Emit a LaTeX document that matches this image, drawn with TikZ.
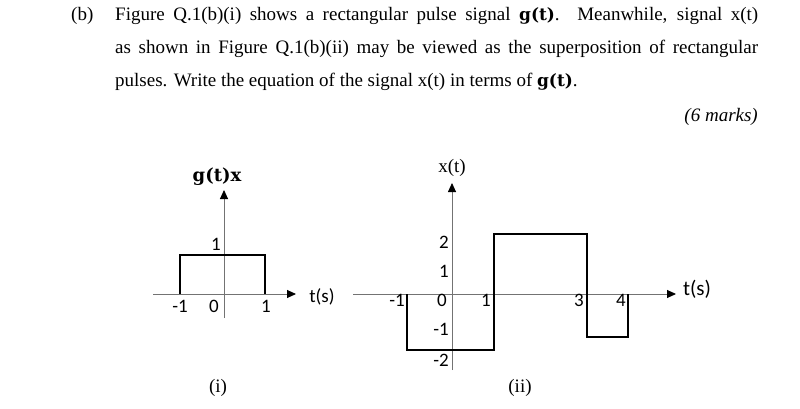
\documentclass[tikz,border=0pt]{standalone}
\usepackage{fontspec}
\setmainfont{Liberation Serif}
\newfontfamily\lblfont{Carlito}
\newfontfamily\gfont{DejaVu Serif}
\usetikzlibrary{arrows.meta}
\newcommand{\gt}{{\gfont\bfseries\fontsize{17}{20}\selectfont g(t)}}
\begin{document}
\begin{tikzpicture}[x=1pt,y=-1pt,
  txt/.style={anchor=west,inner sep=0,font=\fontsize{19}{22}\selectfont},
  lbl/.style={inner sep=0,font=\lblfont\fontsize{19}{22}\selectfont},
  axis/.style={draw=black!55,line width=0.9pt,-{Triangle[length=9pt,width=8pt,fill=black,color=black]}}]
\useasboundingbox (0,0) rectangle (800,409);
\node[txt] (b) at (71,16) {(b)};
\node[txt] (l1) at (115,16) {\parbox{643pt}{\parfillskip=0pt Figure Q.1(b)(i) shows a rectangular pulse signal \gt. Meanwhile, signal x(t)}};
\node[txt] (l2) at (115,49) {\parbox{643pt}{\parfillskip=0pt as shown in Figure Q.1(b)(ii) may be viewed as the superposition of rectangular}};
\node[txt] (l3) at (115,82) {pulses. Write the equation of the signal x(t) in terms of \gt.};
\node[txt,anchor=east] (m) at (758,117) {\itshape (6 marks)};
% graph i
\coordinate (ia) at (153,294); \coordinate (ib) at (296,294);
\coordinate (ic) at (224,318); \coordinate (id) at (224,190);
\draw[axis] (ia) -- (ib);
\draw[axis] (ic) -- (id);
\draw[line width=1.1pt] (180,294) -- (180,255) -- (265,255) -- (265,294);
\node[lbl] (gl) at (217,177) {\gfont\bfseries\fontsize{18}{20}\selectfont g(t)x};
\node[lbl] at (180,306) {-1};
\node[lbl] at (214,306) {0};
\node[lbl] at (266,306) {1};
\node[lbl] at (216,244) {1};
\node[lbl] at (322,297) {t(s)};
\node[txt,anchor=center] at (218,388) {(i)};
% graph ii
\coordinate (iia) at (353,294); \coordinate (iib) at (676,294);
\coordinate (iic) at (452,370); \coordinate (iid) at (452,183);
\draw[axis] (iia) -- (iib);
\draw[axis] (iic) -- (iid);
\draw[line width=1.1pt] (407,294) -- (407,350) -- (494,350) -- (494,234) -- (587,234) -- (587,337) -- (628,337) -- (628,294);
\node[txt,anchor=center] at (452,168) {x(t)};
\node[lbl] at (697,289) {\fontsize{21}{24}\selectfont t(s)};
\node[lbl] at (397,300) {-1};
\node[lbl] at (442,300) {0};
\node[lbl] at (486,300) {1};
\node[lbl] at (579,300) {3};
\node[lbl] at (621,300) {4};
\node[lbl] at (444,242) {2};
\node[lbl] at (444,271) {1};
\node[lbl] at (441,329) {-1};
\node[lbl] at (441,360) {-2};
\node[txt,anchor=center] at (520,388) {(ii)};
\end{tikzpicture}
\end{document}
